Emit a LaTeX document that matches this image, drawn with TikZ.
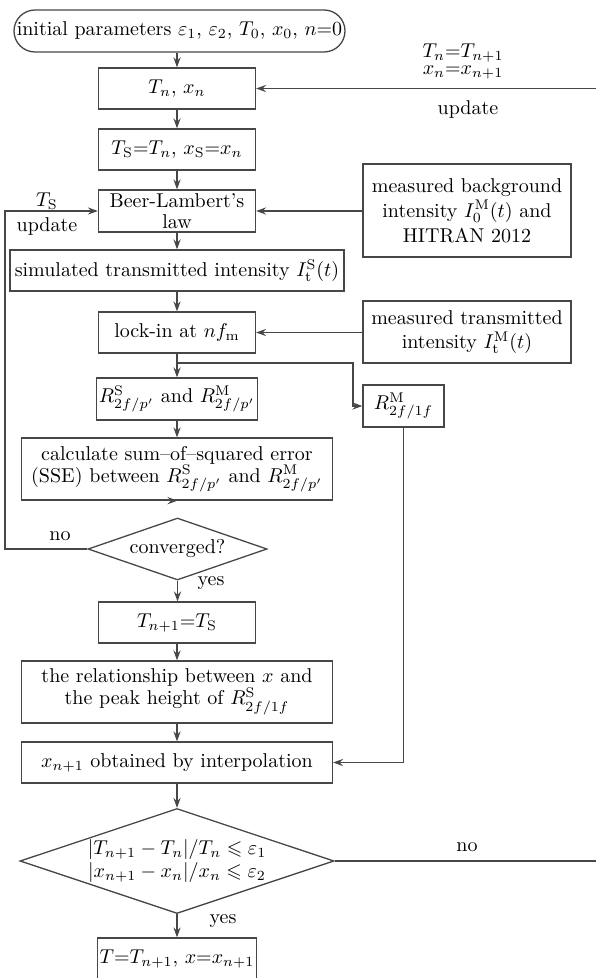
\documentclass[tikz,border=0pt]{standalone}
\usepackage{amssymb}
\usetikzlibrary{arrows.meta,shapes.geometric}

\begin{document}
\begin{tikzpicture}[x=0.5pt, y=-0.5pt,
    font=\fontsize{10}{10.5}\selectfont,
    box/.style={draw=black!72, line width=0.65pt, rectangle, align=center,
        inner sep=1pt, minimum width=78.5pt, minimum height=20.5pt},
    wide/.style={box, minimum width=155.5pt},
    test/.style={draw=black!72, line width=0.65pt, diamond, align=center,
        inner sep=0pt, shape aspect=3},
    arr/.style={draw=black!72, line width=0.65pt,
        -{Stealth[length=5pt,width=3.6pt,inset=1.8pt]}},
    lbl/.style={inner sep=0pt, align=center}]
    \useasboundingbox (0,0) rectangle (595,978);

    % Main column
    \node[box, rounded corners=10.5pt, minimum width=165.5pt, minimum height=21pt] (init) at (179.5,31)
        {initial parameters $\varepsilon_1$, $\varepsilon_2$, $T_0$, $x_0$, $n$=0};
    \node[box] (tn) at (177,88.5) {$T_n$, $x_n$};
    \node[box] (ts) at (177,149.5) {$T_\mathrm{S}$=$T_n$, $x_\mathrm{S}$=$x_n$};
    \node[box, minimum height=21pt] (beer) at (177,211) {Beer-Lambert's\\law};
    \node[box, minimum width=167pt] (sim) at (177,270.5)
        {simulated transmitted intensity $I_\mathrm{t}^\mathrm{S}(t)$};
    \node[box] (lock) at (177,332.5) {lock-in at $nf_\mathrm{m}$};
    \node[box, minimum height=21pt] (rs) at (177,399)
        {$R^\mathrm{S}_{2f/p'}$ and $R^\mathrm{M}_{2f/p'}$};
    \node[wide, minimum height=31pt, font=\fontsize{10}{11}\selectfont] (sse) at (177,469)
        {calculate sum--of--squared error\\(SSE) between $R^\mathrm{S}_{2f/p'}$ and $R^\mathrm{M}_{2f/p'}$};
    \node[test, minimum width=89.5pt, minimum height=31pt] (conv) at (177.5,549) {converged?};
    \node[box] (tnext) at (177,622.5) {$T_{n+1}$=$T_\mathrm{S}$};
    \node[wide, minimum height=31pt, font=\fontsize{10}{11}\selectfont] (rel) at (177,692)
        {the relationship between $x$ and\\the peak height of $R^\mathrm{S}_{2f/1f}$};
    \node[wide] (interp) at (177,762.5) {$x_{n+1}$ obtained by interpolation};
    \node[test, minimum width=157pt, minimum height=52.5pt] (check) at (177,861)
        {$|T_{n+1}-T_n|/T_n\leqslant\varepsilon_1$\\[1pt]$|x_{n+1}-x_n|/x_n\leqslant\varepsilon_2$};
    \node[box] (final) at (177,958.5) {$T$=$T_{n+1}$, $x$=$x_{n+1}$};

    % Measured inputs on the right
    \node[box, minimum width=104pt, minimum height=46.5pt, font=\fontsize{10}{12.5}\selectfont] (bg) at (467,210.5)
        {measured background\\intensity $I_0^\mathrm{M}(t)$ and\\HITRAN 2012};
    \node[box, minimum width=104pt, minimum height=31pt, font=\fontsize{10}{12}\selectfont] (meas) at (467,332)
        {measured transmitted\\intensity $I_\mathrm{t}^\mathrm{M}(t)$};
    \node[box, minimum width=40.5pt, minimum height=21pt] (rm) at (403.5,406) {$R^\mathrm{M}_{2f/1f}$};

    % Helper points for the loops
    \coordinate (split) at (177,363);
    \coordinate (drop) at (353,390);
    \coordinate (back) at (5,380);
    \coordinate (edge) at (602,500);

    % Downward flow
    \draw[arr] (init.south -| tn.north) -- (tn.north);
    \draw[arr] (tn) -- (ts);
    \draw[arr] (ts) -- (beer);
    \draw[arr] (beer) -- (sim);
    \draw[arr] (sim) -- (lock);
    \draw[arr] (lock) -- (rs);
    \draw[arr] (rs) -- (sse);
    \draw[arr] (sse.south) -- (sse.south -| conv.north);
    \draw[arr] (conv.south) -- (conv.south |- tnext.north);
    \draw[arr] (tnext) -- (rel);
    \draw[arr] (rel) -- (interp);
    \draw[arr] (interp) -- (check);
    \draw[arr] (check) -- (final);

    % Side inputs
    \draw[arr] (bg.west |- beer.east) -- (beer.east);
    \draw[arr] (meas.west |- lock.east) -- (lock.east);
    \draw[arr] (split) -| (drop) |- (rm.west);
    \draw[arr] (rm.south) |- (interp.east);

    % Feedback loops
    \draw[arr] (conv.west) -| (back) |- (beer.west);
    \draw[arr] (check.east) -| (edge) |- (tn.east);

    % Branch labels
    \node[lbl] at (47,201) {$T_\mathrm{S}$};
    \node[lbl] at (47,227) {update};
    \node[lbl] at (60,536) {no};
    \node[lbl] at (211,583) {yes};
    \node[lbl, font=\fontsize{10}{8.5}\selectfont] at (463,62) {$T_n$=$T_{n+1}$\\$x_n$=$x_{n+1}$};
    \node[lbl] at (468,110) {update};
    \node[lbl] at (467,847) {no};
    \node[lbl] at (223,921) {yes};
\end{tikzpicture}
\end{document}
